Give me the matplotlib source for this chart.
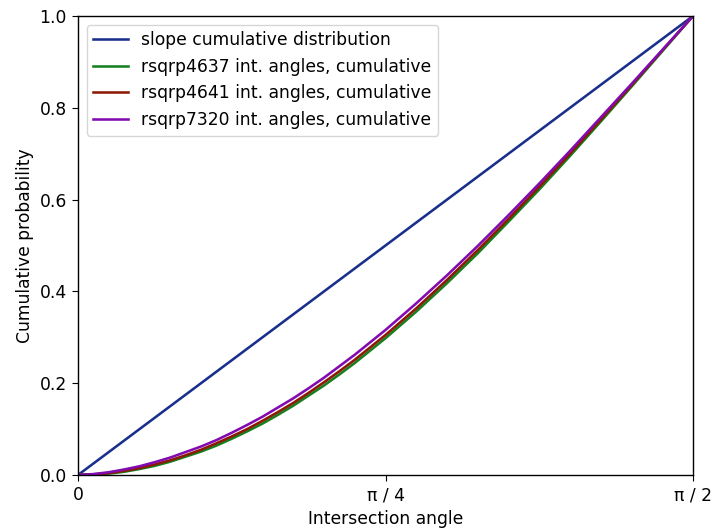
import numpy as np
import matplotlib
matplotlib.use("Agg")
import matplotlib.pyplot as plt

plt.rcParams["font.size"] = 12.3
plt.rcParams["axes.linewidth"] = 1.0
plt.rcParams["xtick.major.size"] = 4.5
plt.rcParams["ytick.major.size"] = 4.5

# fraction of pi/2 along the x axis
frac = [0.000, 0.025, 0.050, 0.075, 0.100, 0.125, 0.150, 0.175, 0.200, 0.225,
        0.250, 0.275, 0.300, 0.325, 0.350, 0.375, 0.400, 0.425, 0.450, 0.475,
        0.50, 0.55, 0.60, 0.65, 0.70, 0.75, 0.80, 0.85, 0.90, 0.95, 1.00]
slope_x = [0.0, 1.0]
slope_cdf = [0.0, 1.0]
cdf_4637 = [0, .001, .003, .007, .013, .020, .029, .040, .051, .064,
            .079, .095, .112, .131, .151, .173, .195, .219, .244, .271,
            .298, .356, .418, .483, .552, .622, .695, .770, .846, .923, 1.0]
cdf_4641 = [0, .0015, .004, .009, .015, .023, .032, .043, .055, .069,
            .084, .100, .118, .137, .157, .179, .202, .226, .251, .278,
            .305, .363, .425, .490, .558, .628, .700, .774, .849, .925, 1.0]
cdf_7320 = [0, .002, .006, .012, .019, .028, .038, .050, .062, .076,
            .092, .109, .127, .147, .167, .189, .212, .237, .262, .289,
            .316, .374, .435, .499, .566, .635, .706, .779, .852, .926, 1.0]

xs = np.array(frac) * np.pi / 2
fig = plt.figure(figsize=(7.12, 5.3), dpi=100)
ax = fig.add_axes([0.1096, 0.1038, 0.8637, 0.866])

ax.plot(np.array(slope_x) * np.pi / 2, slope_cdf, c="#1a2f8c", lw=1.85,
        label="slope cumulative distribution")
ax.plot(xs, cdf_4637, c="#16801e", lw=1.85, label="rsqrp4637 int. angles, cumulative")
ax.plot(xs, cdf_4641, c="#8c1a05", lw=1.85, label="rsqrp4641 int. angles, cumulative")
ax.plot(xs, cdf_7320, c="#820ab0", lw=1.85, label="rsqrp7320 int. angles, cumulative")

ax.set_xlim(0, np.pi / 2); ax.set_ylim(0, 1)
ax.set_xticks([0, np.pi / 4, np.pi / 2])
ax.set_xticklabels(["0", "π / 4", "π / 2"])
ax.set_xlabel("Intersection angle"); ax.set_ylabel("Cumulative probability")
ax.legend(loc="upper left")
fig.savefig("out.png", dpi=100)
